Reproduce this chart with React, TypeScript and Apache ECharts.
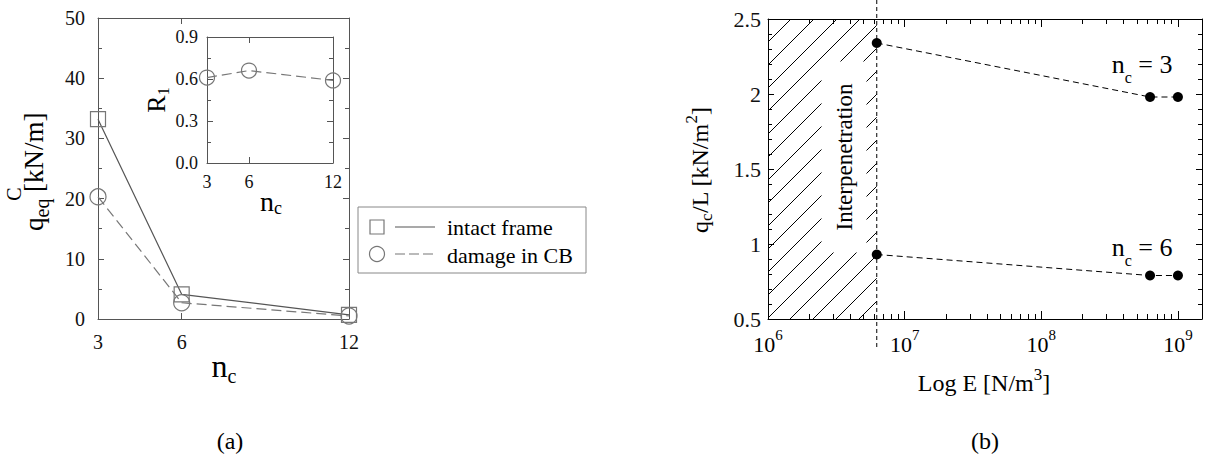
import React, { useEffect, useRef } from 'react';
import * as echarts from 'echarts';

// ---------- data (a) ----------
const nC = [3, 6, 12];
const intactFrame = [33.2, 4.1, 0.7];
const damageInCB = [20.3, 2.7, 0.5];
const r1Ratio = [0.61, 0.66, 0.59];
const legendNames = ['intact frame', 'damage in CB'];

// ---------- data (b) ----------
const stiffnessE = [6.25e6, 6.25e8, 1e9];
const qcL_nc3 = [2.34, 1.98, 1.98];
const qcL_nc6 = [0.93, 0.79, 0.79];
const curveNc = [3, 6];
const interpenetrationLimit = 6.25e6;
const logMajorTicks = [1e6, 1e7, 1e8, 1e9];
const logMinorTicks = [
  2e6, 3e6, 4e6, 5e6, 6e6, 7e6, 8e6, 9e6,
  2e7, 3e7, 4e7, 5e7, 6e7, 7e7, 8e7, 9e7,
  2e8, 3e8, 4e8, 5e8, 6e8, 7e8, 8e8, 9e8,
];

const FONT = "'Liberation Serif', 'Times New Roman', serif";
const GRAY_AX = '#555';

function linX(gridIndex: number, position: string, labels: boolean, fontSize: number, margin: number) {
  return {
    type: 'value', gridIndex, position, min: 3, max: 12,
    axisLine: { show: true, onZero: false, lineStyle: { color: GRAY_AX, width: 1 } },
    axisTick: { show: true, inside: true, length: 6, customValues: nC, lineStyle: { color: GRAY_AX } },
    axisLabel: { show: labels, customValues: nC, fontSize, margin, color: '#111', fontFamily: FONT },
    splitLine: { show: false },
  };
}

function linY(gridIndex: number, position: string, min: number, max: number, interval: number, minorSplit: number,
  labels: boolean, fontSize: number, margin: number, digits: number | null, color: string) {
  return {
    type: 'value', gridIndex, position, min, max, interval,
    axisLine: { show: true, onZero: false, lineStyle: { color, width: 1 } },
    axisTick: { show: true, inside: true, length: 6, lineStyle: { color } },
    minorTick: { show: true, splitNumber: minorSplit, length: 4, lineStyle: { color } },
    axisLabel: {
      show: labels, fontSize, margin, color: '#111', fontFamily: FONT,
      formatter: digits === null ? undefined : (v: number) => v.toFixed(digits),
    },
    splitLine: { show: false }, minorSplitLine: { show: false },
  };
}

function logX(position: string, ticks: number[], len: number, labels: boolean, line: boolean) {
  return {
    type: 'log', logBase: 10, gridIndex: 2, position, min: 1e6, max: 1.5e9,
    axisLine: { show: line, onZero: false, lineStyle: { color: '#000', width: 1 } },
    axisTick: { show: true, inside: true, length: len, customValues: ticks, lineStyle: { color: '#000' } },
    axisLabel: labels ? {
      show: true, customValues: logMajorTicks, margin: 8,
      formatter: (v: number) => `{b|10}{p|${Math.round(Math.log10(v))}}`,
      rich: {
        b: { fontSize: 22, fontFamily: FONT, color: '#000' },
        p: { fontSize: 15, fontFamily: FONT, color: '#000', padding: [0, 0, 20, 0] },
      },
    } : { show: false },
    splitLine: { show: false },
  };
}

function rt(text: string, x: number, y: number, rich: any, opts: any = {}) {
  return {
    type: 'text', x, y, z: 100, rotation: opts.rotation || 0,
    style: {
      text, rich, fill: '#000', fontFamily: FONT, fontSize: opts.fontSize || 22,
      align: opts.align || 'center', verticalAlign: 'middle',
      backgroundColor: opts.bg, padding: opts.padding,
    },
  };
}

const tok = (fontSize: number, padding?: number[]) => ({ fontSize, fontFamily: FONT, fill: '#000', padding });

export default function App() {
  const ref = useRef<HTMLDivElement>(null);
  useEffect(() => {
    const chart = echarts.init(ref.current!, null, { renderer: 'svg' });
    const option: any = {
      animation: false,
      backgroundColor: '#fff',
      grid: [
        { left: 98, top: 18, width: 251, height: 301 },
        { left: 207, top: 37, width: 126, height: 126 },
        { left: 768, top: 19, width: 434, height: 300 },
      ],
      xAxis: [
        linX(0, 'bottom', true, 20, 13),
        linX(0, 'top', false, 20, 13),
        linX(1, 'bottom', true, 18, 10),
        linX(1, 'top', false, 18, 10),
        logX('bottom', logMajorTicks, 8, true, true),
        logX('top', logMajorTicks, 8, false, true),
        logX('bottom', logMinorTicks, 5, false, false),
        logX('top', logMinorTicks, 5, false, false),
      ],
      yAxis: [
        linY(0, 'left', 0, 50, 10, 2, true, 20, 13, null, GRAY_AX),
        linY(0, 'right', 0, 50, 10, 2, false, 20, 13, null, GRAY_AX),
        linY(1, 'left', 0, 0.9, 0.3, 2, true, 18, 9, 1, GRAY_AX),
        linY(1, 'right', 0, 0.9, 0.3, 2, false, 18, 9, 1, GRAY_AX),
        linY(2, 'left', 0.5, 2.5, 0.5, 5, true, 22, 7, null, '#000'),
        linY(2, 'right', 0.5, 2.5, 0.5, 5, false, 22, 7, null, '#000'),
      ],
      series: [
        {
          name: legendNames[0], type: 'line', xAxisIndex: 0, yAxisIndex: 0, clip: false,
          data: nC.map((n, i) => [n, intactFrame[i]]),
          symbol: 'rect', symbolSize: 15,
          itemStyle: { color: 'none', borderColor: '#777', borderWidth: 1.2 },
          lineStyle: { color: '#555', width: 1.2, type: 'solid' },
        },
        {
          name: legendNames[1], type: 'line', xAxisIndex: 0, yAxisIndex: 0, clip: false,
          data: nC.map((n, i) => [n, damageInCB[i]]),
          symbol: 'circle', symbolSize: 16,
          itemStyle: { color: 'none', borderColor: '#777', borderWidth: 1.2 },
          lineStyle: { color: '#777', width: 1.2, type: [10, 5] },
        },
        {
          name: 'R1', type: 'line', xAxisIndex: 2, yAxisIndex: 2, clip: false,
          data: nC.map((n, i) => [n, r1Ratio[i]]),
          symbol: 'circle', symbolSize: 15,
          itemStyle: { color: 'none', borderColor: '#777', borderWidth: 1.2 },
          lineStyle: { color: '#777', width: 1.2, type: [10, 5] },
        },
        {
          name: 'hatch', type: 'custom', xAxisIndex: 4, yAxisIndex: 4, clip: false, silent: true,
          data: [[interpenetrationLimit, 0.5]],
          renderItem: (_p: any, api: any) => {
            const tl = api.coord([1e6, 2.5]);
            const br = api.coord([interpenetrationLimit, 0.5]);
            const x0 = tl[0], y0 = tl[1], x1 = br[0], y1 = br[1];
            const children: any[] = [];
            const s = 23;
            for (let c = x0 + y0 + s; c < x1 + y1; c += s) {
              const xa = Math.max(x0, c - y1);
              const xb = Math.min(x1, c - y0);
              if (xb <= xa) continue;
              children.push({
                type: 'line', shape: { x1: xa, y1: c - xa, x2: xb, y2: c - xb },
                style: { stroke: '#000', lineWidth: 1 },
              });
            }
            children.push({
              type: 'line', shape: { x1: x1, y1: 0, x2: x1, y2: y1 + 29 },
              style: { stroke: '#000', lineWidth: 1, lineDash: [4, 3] },
            });
            return { type: 'group', children };
          },
        },
        {
          name: 'nc3', type: 'line', xAxisIndex: 4, yAxisIndex: 4, clip: false,
          data: stiffnessE.map((e, i) => [e, qcL_nc3[i]]),
          symbol: 'circle', symbolSize: 10,
          itemStyle: { color: '#000' },
          lineStyle: { color: '#000', width: 1, type: [6, 4] },
        },
        {
          name: 'nc6', type: 'line', xAxisIndex: 4, yAxisIndex: 4, clip: false,
          data: stiffnessE.map((e, i) => [e, qcL_nc6[i]]),
          symbol: 'circle', symbolSize: 10,
          itemStyle: { color: '#000' },
          lineStyle: { color: '#000', width: 1, type: [6, 4] },
        },
      ],
      graphic: {
        elements: [
          // legend (a)
          { type: 'rect', z: 100, shape: { x: 358, y: 207, width: 228, height: 66 }, style: { fill: '#fff', stroke: '#888', lineWidth: 1 } },
          { type: 'rect', z: 101, shape: { x: 370, y: 220, width: 14, height: 14 }, style: { fill: 'none', stroke: '#777', lineWidth: 1.2 } },
          { type: 'line', z: 101, shape: { x1: 395, y1: 227, x2: 435, y2: 227 }, style: { stroke: '#555', lineWidth: 1.2 } },
          { type: 'text', z: 101, x: 447, y: 227, style: { text: legendNames[0], fontSize: 22, fontFamily: FONT, fill: '#000', align: 'left', verticalAlign: 'middle' } },
          { type: 'circle', z: 101, shape: { cx: 377, cy: 254, r: 7.5 }, style: { fill: 'none', stroke: '#777', lineWidth: 1.2 } },
          { type: 'line', z: 101, shape: { x1: 395, y1: 254, x2: 435, y2: 254 }, style: { stroke: '#777', lineWidth: 1.2, lineDash: [10, 4] } },
          { type: 'text', z: 101, x: 447, y: 255, style: { text: legendNames[1], fontSize: 22, fontFamily: FONT, fill: '#000', align: 'left', verticalAlign: 'middle' } },
          // axis titles (a)
          rt('{a|q}{s|eq}{a| [kN/m]}', 34, 231, { a: tok(27), s: tok(20, [15, 0, 0, 0]) }, { rotation: Math.PI / 2, align: 'left', fontSize: 27 }),
          rt('C', 14, 194, {}, { rotation: Math.PI / 2, fontSize: 20 }),
          rt('{a|n}{s|c}', 224, 366, { a: tok(32), s: tok(20, [20, 0, 0, 0]) }, { fontSize: 32 }),
          rt('{a|R}{s|1}', 156, 100, { a: tok(26), s: tok(16, [15, 0, 0, 0]) }, { rotation: Math.PI / 2, fontSize: 26 }),
          rt('{a|n}{s|c}', 271, 201, { a: tok(28), s: tok(18, [14, 0, 0, 0]) }, { fontSize: 28 }),
          // axis titles (b)
          rt('{a|q}{s|c}{a|/L [kN/m}{p|2}{a|]}', 700, 170, { a: tok(24), s: tok(17, [12, 0, 0, 0]), p: tok(17, [0, 0, 18, 0]) }, { rotation: Math.PI / 2, fontSize: 24 }),
          rt('{a|Log E [N/m}{p|3}{a|]}', 984, 383, { a: tok(24), p: tok(17, [0, 0, 18, 0]) }, { fontSize: 24 }),
          rt('Interpenetration', 844, 157, {}, { rotation: Math.PI / 2, fontSize: 23, bg: '#fff', padding: [11, 22] }),
          rt(`{a|n}{s|c}{a| = ${curveNc[0]}}`, 1142, 64, { a: tok(26), s: tok(16, [26, 0, 0, 0]) }, { fontSize: 26 }),
          rt(`{a|n}{s|c}{a| = ${curveNc[1]}}`, 1142, 247, { a: tok(26), s: tok(16, [26, 0, 0, 0]) }, { fontSize: 26 }),
          // panel labels
          rt('(a)', 230, 441, {}, { fontSize: 24 }),
          rt('(b)', 985, 441, {}, { fontSize: 24 }),
        ],
      },
    };
    chart.setOption(option);
    return () => chart.dispose();
  }, []);
  return <div ref={ref} style={{ position: 'fixed', left: 0, top: 0, width: 1208, height: 461, background: '#fff' }} />;
}
